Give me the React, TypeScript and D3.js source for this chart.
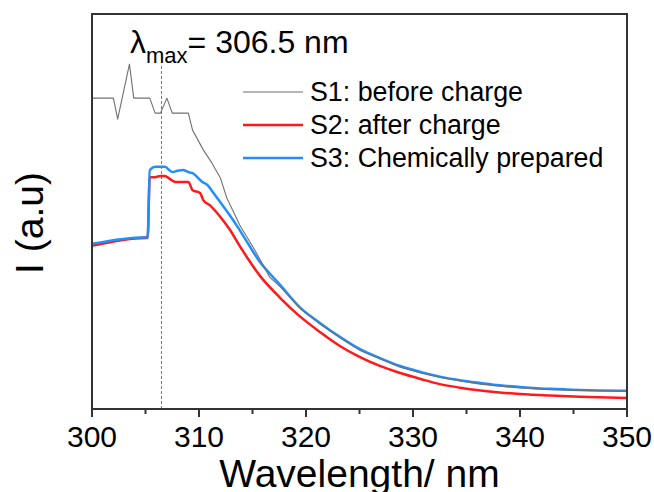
import React from "react";
import * as d3 from "d3";

const s1X = [300, 302.0, 302.4, 303.5, 303.9, 305.4, 305.9, 306.4, 307.0, 307.5, 309.0, 309.4, 310.4, 311.2, 312.0, 312.6, 313.6, 313.8, 315.2, 316.6, 317.6, 319.4, 321.3, 323.2, 325.0, 326.9, 328.8, 330.7, 332.5, 334.4, 336.3, 338.1, 340.0, 342.8, 345.6, 350];
const s1Y = [78.7, 78.7, 73.4, 87.3, 78.7, 78.7, 74.9, 74.9, 78.7, 74.9, 74.9, 70.6, 65.6, 62.3, 58.5, 53.4, 47.8, 46.6, 40.3, 33.4, 30.9, 25.6, 21.5, 18.0, 14.9, 12.7, 10.6, 9.1, 8.0, 7.1, 6.3, 5.8, 5.3, 4.9, 4.7, 4.5];

const s2X = [300, 305.0, 305.2, 305.4, 305.9, 306.4, 306.8, 307.3, 307.8, 309.0, 309.4, 310.1, 310.4, 311.0, 312.0, 312.9, 313.8, 315.7, 317.6, 319.4, 321.3, 323.2, 325.0, 326.9, 328.8, 330.7, 332.5, 334.4, 336.3, 338.1, 340.0, 342.8, 345.6, 350];
const s2Y = [41.3, 43.3, 43.3, 58.7, 58.7, 59.0, 59.0, 58.2, 57.5, 57.5, 55.4, 54.7, 52.9, 51.6, 48.6, 45.3, 41.3, 33.7, 28.1, 23.5, 19.5, 15.9, 13.2, 10.9, 9.1, 7.6, 6.3, 5.4, 4.7, 4.2, 3.8, 3.4, 3.1, 2.8];

const s3X = [300, 305.0, 305.2, 305.4, 305.9, 306.8, 307.5, 308.0, 308.5, 309.0, 309.4, 310.3, 310.8, 311.3, 312.2, 313.2, 313.8, 315.7, 317.6, 319.4, 321.3, 323.2, 325.0, 326.9, 328.8, 330.7, 332.5, 334.4, 336.3, 338.1, 340.0, 342.8, 345.6, 350];
const s3Y = [41.8, 43.5, 43.5, 60.5, 61.3, 61.3, 60.0, 60.3, 60.5, 60.0, 59.7, 57.5, 56.7, 54.9, 51.6, 47.8, 45.3, 37.2, 31.4, 25.8, 21.8, 18.2, 15.2, 12.9, 10.9, 9.4, 8.2, 7.3, 6.6, 6.0, 5.6, 5.1, 4.8, 4.6];

const legendLabels = ["S1: before charge", "S2: after charge", "S3: Chemically prepared"];
const seriesColors = ["#707070", "#ff1a1a", "#1e8fff"];
const majorTicks = [300, 310, 320, 330, 340, 350];
const minorTicks = [305, 315, 325, 335, 345];
const lambdaMax = 306.5;

const W = 654, H = 492;
const L = 92, R = 627, T = 14, B = 409;
const FONT = "'Liberation Sans', Arial, Helvetica, sans-serif";

export default function App() {
  const x = d3.scaleLinear().domain([300, 350]).range([L, R]);
  const y = d3.scaleLinear().domain([0, 100]).range([B, T]);

  const toPts = (xs: number[], ys: number[]) => xs.map((v, i) => [v, ys[i]] as [number, number]);
  const lin = d3.line<[number, number]>().x(d => x(d[0])).y(d => y(d[1])).curve(d3.curveLinear);
  const smooth = d3.line<[number, number]>().x(d => x(d[0])).y(d => y(d[1])).curve(d3.curveMonotoneX);

  const p1 = lin(toPts(s1X, s1Y)) || "";
  const p2 = smooth(toPts(s2X, s2Y)) || "";
  const p3 = smooth(toPts(s3X, s3Y)) || "";

  const legY = [92, 125, 158];
  const lx = Math.floor(x(lambdaMax)) + 0.5;

  return (
    <svg width={W} height={H} style={{ position: "absolute", left: 0, top: 0 }} fontFamily={FONT}>
      <rect x={0} y={0} width={W} height={H} fill="#fff" />
      <defs>
        <clipPath id="plot">
          <rect x={L} y={T} width={R - L} height={B - T} />
        </clipPath>
      </defs>
      {/* lambda max line */}
      <line x1={lx} x2={lx} y1={B} y2={65} stroke="#22b822" strokeWidth={1} strokeDasharray="3,2" />
      <g clipPath="url(#plot)" fill="none" strokeLinejoin="round">
        <path d={p2} stroke={seriesColors[1]} strokeWidth={2.5} />
        <path d={p3} stroke={seriesColors[2]} strokeWidth={2.5} />
        <path d={p1} stroke={seriesColors[0]} strokeWidth={1.1} />
      </g>
      {/* frame */}
      <rect x={L} y={T} width={R - L} height={B - T} fill="none" stroke="#333" strokeWidth={2} />
      {majorTicks.map(t => (
        <g key={"M" + t}>
          <line x1={x(t)} x2={x(t)} y1={B} y2={B + 8} stroke="#333" strokeWidth={2} />
          <text x={x(t)} y={447} textAnchor="middle" fontSize={30} fill="#000">{t}</text>
        </g>
      ))}
      {minorTicks.map(t => (
        <line key={"m" + t} x1={x(t)} x2={x(t)} y1={B} y2={B + 5} stroke="#333" strokeWidth={2} />
      ))}
      <text x={(L + R) / 2} y={487} textAnchor="middle" fontSize={39} fill="#000">Wavelength/ nm</text>
      <text transform={`translate(43,223) rotate(-90)`} textAnchor="middle" fontSize={39} fill="#000">I (a.u)</text>
      {/* lambda max label */}
      <text x={130} y={53} fontSize={32} fill="#000">
        λ<tspan fontSize={22} dy={10}>max</tspan><tspan dy={-10}>= 306.5 nm</tspan>
      </text>
      {/* legend */}
      {legendLabels.map((lab, i) => (
        <g key={lab}>
          <line x1={243} x2={303} y1={legY[i]} y2={legY[i]} stroke={seriesColors[i]} strokeWidth={i === 0 ? 1.1 : 2.5} />
          <text x={310} y={legY[i] + 9} fontSize={26.8} fill="#000">{lab}</text>
        </g>
      ))}
    </svg>
  );
}
